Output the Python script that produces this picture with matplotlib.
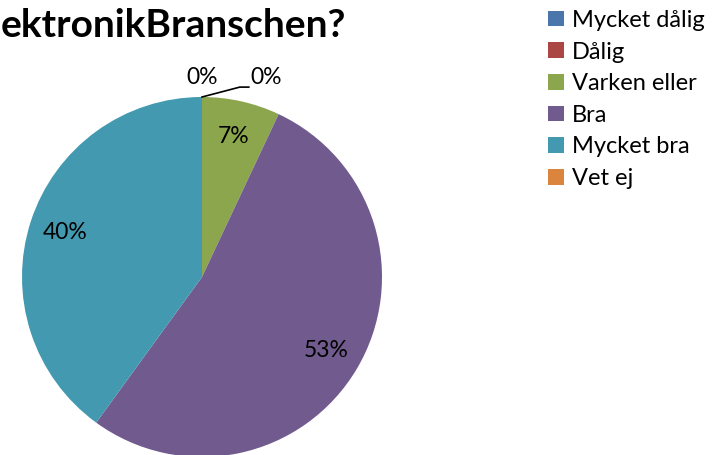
import numpy as np
import matplotlib.pyplot as plt
from matplotlib.patches import Patch

# data
kategorier = ["Mycket dålig", "Dålig", "Varken eller", "Bra", "Mycket bra", "Vet ej"]
andelar = [0, 0, 7, 53, 40, 0]
farger = ["#4A76AB", "#AA4643", "#8CA64E", "#715A8E", "#4399B0", "#DB843D"]
titel = "ektronikBranschen?"

plt.rcParams['font.family'] = ['Lato', 'DejaVu Sans']

W, H = 714, 455
fig = plt.figure(figsize=(W / 100, H / 100), dpi=100)

# pie axes: center (202, 277) px, radius 180 px
cx, cy, r = 202, 277, 180
ax = fig.add_axes([(cx - r) / W, (H - cy - r) / H, 2 * r / W, 2 * r / H])
wedges, _ = ax.pie(andelar, colors=farger, startangle=90, counterclock=False,
                   wedgeprops=dict(linewidth=0))
ax.set_xlim(-1, 1)
ax.set_ylim(-1, 1)
ax.set_aspect('equal')
ax.axis('off')

# procentetiketter
for w, v in zip(wedges, andelar):
    if v == 0:
        continue
    mid = np.deg2rad((w.theta1 + w.theta2) / 2)
    ax.text(0.8 * np.cos(mid), 0.8 * np.sin(mid), f"{v}%", ha='center', va='center',
            fontsize=16.5)

# nollor ovanför toppen
ax.text(0, 1.11, "0%", ha='center', va='center', fontsize=16.5, clip_on=False)
ax.plot([0, 0.21, 0.26], [1.0, 1.055, 1.055], color='black', lw=1.2, clip_on=False)
ax.text(0.27, 1.11, "0%", ha='left', va='center', fontsize=16.5, clip_on=False)

fig.text(0.001, 0.945, titel, fontsize=28, fontweight='bold', ha='left', va='center')

handles = [Patch(facecolor=c, edgecolor='none') for c in farger]
fig.legend(handles, kategorier, loc='upper left', bbox_to_anchor=(0.738, 1.025),
           frameon=False, fontsize=17, handlelength=0.65, handleheight=0.65,
           handletextpad=0.35, labelspacing=0.45)

fig.savefig("out.png", dpi=100)
